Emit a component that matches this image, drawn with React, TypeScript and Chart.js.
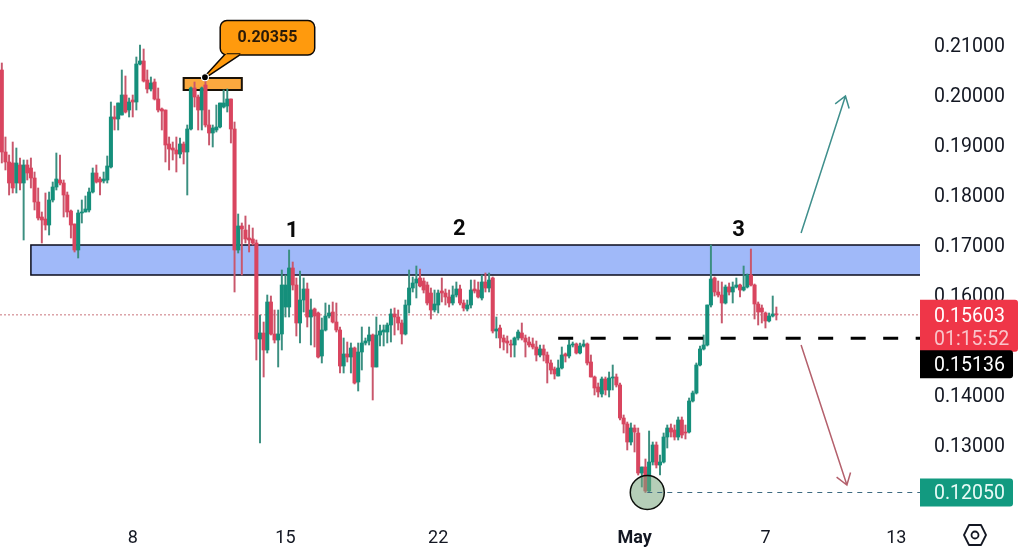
import { useEffect, useRef } from 'react'
import Chart from 'chart.js/auto'

// candles are 4h, prices in 1/10000 (2050 = 0.2050)
const opens = [
  2050,1886,1866,1864,1824,1860,1824,1860,1854,1834,1786,1756,1752,1740,1790,1816,1830,1824,1800,1768,1742,1690,1764,1766,1770,1806,1844,1832,1828,1830,
  1856,1956,1952,1960,2000,1970,1990,1986,2062,2068,2030,2012,2026,1992,1972,1970,1902,1894,1890,1882,1902,1886,1932,2014,1996,1970,2020,1940,1924,1930,
  1936,1976,1978,1992,1932,1690,1738,1730,1714,1712,1704,1512,1524,1490,1586,1522,1510,1522,1576,1576,1654,1620,1544,1590,1612,1556,1572,1564,1478,1530,
  1558,1566,1546,1530,1458,1482,1476,1494,1426,1486,1504,1508,1520,1456,1520,1526,1526,1540,1562,1556,1544,1522,1580,1614,1624,1634,1628,1620,1604,1570,
  1580,1608,1604,1596,1584,1600,1612,1584,1572,1580,1612,1610,1594,1626,1614,1634,1528,1534,1514,1508,1502,1500,1514,1524,1514,1506,1502,1496,1480,1492,
  1480,1464,1452,1438,1454,1482,1478,1500,1502,1484,1498,1502,1466,1436,1416,1402,1432,1410,1434,1436,1420,1354,1342,1306,1334,1324,1244,1256,1208,1266,
  1300,1260,1266,1316,1334,1330,1316,1350,1326,1326,1388,1404,1460,1492,1500,1580,1634,1606,1600,1584,1616,1606,1616,1620,1610,1616,1640,1620,1582,1574,
  1564,1548,1558,1562,
]
const highs = [
  2064,1916,1880,1906,1894,1874,1870,1870,1874,1846,1814,1766,1804,1806,1826,1884,1880,1830,1806,1770,1742,1770,1790,1798,1814,1854,1860,1836,1846,1878,
  1986,1978,1984,2050,2038,1994,2000,2076,2100,2092,2050,2036,2032,2014,1974,1970,1916,1906,1916,1914,1906,1940,2016,2026,2000,2016,2035.5,1970,1940,1980,
  1984,2010,2012,1992,1946,1762,1744,1758,1740,1734,1710,1560,1546,1600,1598,1570,1570,1650,1640,1690,1666,1634,1648,1634,1624,1592,1574,1566,1554,1584,
  1580,1586,1584,1536,1514,1506,1504,1496,1504,1536,1514,1536,1522,1556,1540,1540,1544,1572,1574,1570,1550,1590,1650,1636,1658,1652,1634,1626,1614,1610,
  1610,1634,1612,1610,1618,1626,1620,1590,1590,1630,1630,1626,1640,1644,1644,1636,1556,1540,1520,1518,1510,1516,1530,1544,1520,1516,1514,1508,1500,1500,
  1486,1470,1456,1470,1496,1484,1510,1506,1504,1504,1510,1504,1480,1438,1424,1436,1436,1446,1460,1442,1424,1360,1346,1344,1340,1334,1256,1272,1328,1306,
  1306,1280,1324,1340,1342,1340,1356,1356,1340,1394,1408,1464,1498,1520,1580,1700,1636,1628,1626,1620,1624,1626,1634,1622,1658,1642,1692,1622,1586,1580,
  1566,1564,1598,1576,
]
const lows = [
  1864,1850,1800,1804,1804,1810,1710,1830,1814,1770,1750,1704,1730,1720,1786,1810,1820,1756,1756,1714,1686,1674,1744,1766,1766,1804,1824,1800,1824,1824,
  1854,1930,1930,1960,1964,1956,1956,1970,2060,2026,2004,2008,1990,1966,1930,1866,1850,1870,1846,1874,1862,1800,1930,1976,1930,1930,1936,1900,1896,1926,
  1934,1974,1966,1904,1606,1684,1640,1704,1686,1700,1470,1304,1436,1484,1520,1504,1456,1490,1556,1556,1610,1518,1504,1566,1536,1500,1496,1474,1464,1528,
  1554,1544,1526,1444,1444,1466,1444,1422,1408,1450,1500,1500,1390,1456,1498,1498,1504,1506,1520,1530,1502,1520,1564,1606,1594,1616,1604,1580,1552,1566,
  1564,1586,1580,1576,1580,1596,1580,1568,1568,1574,1604,1594,1590,1606,1606,1524,1514,1494,1490,1484,1476,1476,1510,1510,1476,1496,1492,1468,1476,1468,
  1424,1442,1432,1438,1452,1466,1474,1496,1482,1482,1496,1460,1436,1400,1396,1396,1400,1396,1410,1416,1350,1324,1290,1300,1286,1240,1216,1205,1206,1260,
  1254,1240,1264,1294,1316,1310,1310,1314,1312,1324,1386,1402,1458,1490,1498,1576,1598,1596,1544,1582,1600,1584,1614,1596,1608,1614,1618,1552,1540,1544,
  1534,1546,1556,1550,
]
const closes = [
  1886,1866,1824,1814,1864,1824,1860,1844,1834,1786,1754,1750,1740,1790,1816,1832,1824,1800,1766,1740,1690,1764,1766,1772,1806,1844,1826,1826,1832,1858,
  1956,1952,1984,2000,1966,1986,1986,2062,2068,2028,2012,2024,1992,1970,1968,1900,1892,1890,1882,1902,1886,1932,2014,1996,1970,2014,1940,1924,1934,1936,
  1984,1984,1992,1932,1690,1738,1732,1712,1710,1704,1512,1524,1490,1586,1522,1510,1522,1620,1620,1654,1620,1544,1590,1612,1556,1570,1558,1476,1530,1558,
  1564,1546,1530,1458,1482,1476,1494,1424,1486,1504,1508,1520,1456,1520,1528,1530,1540,1562,1556,1544,1522,1580,1614,1624,1632,1618,1610,1584,1570,1582,
  1604,1604,1596,1584,1600,1612,1584,1574,1580,1610,1608,1596,1626,1614,1630,1528,1532,1514,1506,1504,1500,1514,1526,1514,1506,1500,1496,1480,1492,1480,
  1464,1450,1442,1454,1480,1478,1500,1502,1484,1498,1502,1464,1436,1414,1406,1432,1410,1434,1436,1420,1354,1342,1306,1334,1326,1244,1256,1208,1266,1300,
  1260,1266,1316,1334,1326,1316,1350,1320,1324,1388,1404,1460,1492,1500,1580,1632,1606,1600,1584,1616,1606,1616,1620,1610,1616,1640,1620,1582,1566,1566,
  1548,1558,1562,1560.3,
]

const slotCount = 253
const tickIndexes = [36, 78, 120, 174, 210, 246]
const tickNames = ['8', '15', '22', 'May', '7', '13']
const yTicks = [0.12, 0.13, 0.14, 0.15, 0.16, 0.17, 0.18, 0.19, 0.2, 0.21]

const zoneTop = 0.17
const zoneBottom = 0.164
const zoneStart = 8
const peakBoxTop = 0.2034
const peakBoxBottom = 0.201
const peakBoxStart = 50
const peakBoxEnd = 66
const peakIndex = 56
const peakPrice = 0.20355
const lastPrice = 0.15603
const levelPrice = 0.15136
const levelStart = 153
const lowPrice = 0.1205
const lowIndex = 177.5
const countLabels = ['1', '2', '3']
const countIndexes = [79.8, 125.8, 202.6]
const countPrices = [0.1728, 0.1732, 0.1729]
const upArrow = { from: [219.8, 0.1724], to: [232, 0.1998] }
const downArrow = { from: [219.8, 0.15], to: [232.4, 0.122] }

const RED = '#d9455f'
const GREEN = '#158f7b'
const RED_WICK = '#c9576c'
const GREEN_WICK = '#3b8f80'
const FONT = 'Roboto, sans-serif'

const drawArrow = (ctx: any, x0: number, y0: number, x1: number, y1: number, color: string) => {
  const ang = Math.atan2(y1 - y0, x1 - x0)
  ctx.strokeStyle = color
  ctx.lineWidth = 1.5
  ctx.beginPath()
  ctx.moveTo(x0, y0)
  ctx.lineTo(x1, y1)
  ctx.moveTo(x1 - 13 * Math.cos(ang - 0.6), y1 - 13 * Math.sin(ang - 0.6))
  ctx.lineTo(x1, y1)
  ctx.lineTo(x1 - 13 * Math.cos(ang + 0.6), y1 - 13 * Math.sin(ang + 0.6))
  ctx.stroke()
}

const priceTag = (ctx: any, x: number, y: number, w: number, h: number, color: string) => {
  ctx.fillStyle = color
  ctx.beginPath()
  ctx.roundRect(x, y, w, h, [0, 3, 3, 0])
  ctx.fill()
}

// zone + orange box go under the candles
const underlay = {
  id: 'underlay',
  beforeDatasetsDraw(chart: any) {
    const { ctx, chartArea, scales } = chart
    const sx = scales.x
    const sy = scales.y
    ctx.save()
    const zx = sx.getPixelForValue(zoneStart)
    const zt = sy.getPixelForValue(zoneTop)
    const zb = sy.getPixelForValue(zoneBottom)
    ctx.fillStyle = '#a0b9f9'
    ctx.fillRect(zx, zt, chartArea.right - zx, zb - zt)
    ctx.strokeStyle = '#0b0d1c'
    ctx.lineWidth = 1.5
    ctx.beginPath()
    ctx.moveTo(chartArea.right, zt)
    ctx.lineTo(zx, zt)
    ctx.lineTo(zx, zb)
    ctx.lineTo(chartArea.right, zb)
    ctx.stroke()

    const bx0 = sx.getPixelForValue(peakBoxStart)
    const bx1 = sx.getPixelForValue(peakBoxEnd)
    const bt = sy.getPixelForValue(peakBoxTop)
    const bb = sy.getPixelForValue(peakBoxBottom)
    ctx.fillStyle = '#fba93f'
    ctx.fillRect(bx0, bt, bx1 - bx0, bb - bt)
    ctx.strokeStyle = '#1a1208'
    ctx.lineWidth = 2
    ctx.strokeRect(bx0, bt, bx1 - bx0, bb - bt)

    // last price dotted line
    const ly = sy.getPixelForValue(lastPrice)
    ctx.strokeStyle = '#c9747c'
    ctx.lineWidth = 1
    ctx.setLineDash([2, 2])
    ctx.beginPath()
    ctx.moveTo(0, ly)
    ctx.lineTo(chartArea.right, ly)
    ctx.stroke()
    ctx.restore()
  },
}

const overlay = {
  id: 'overlay',
  afterDraw(chart: any) {
    const { ctx, chartArea, scales } = chart
    const sx = scales.x
    const sy = scales.y
    const right = chartArea.right
    ctx.save()

    // low marker
    const cx = sx.getPixelForValue(lowIndex)
    const cy = sy.getPixelForValue(lowPrice)
    ctx.beginPath()
    ctx.arc(cx, cy, 17, 0, Math.PI * 2)
    ctx.fillStyle = 'rgba(120, 165, 125, 0.55)'
    ctx.fill()
    ctx.strokeStyle = '#0c100c'
    ctx.lineWidth = 1.5
    ctx.stroke()
    ctx.strokeStyle = '#3f6b80'
    ctx.lineWidth = 1
    ctx.setLineDash([5, 5])
    ctx.beginPath()
    ctx.moveTo(cx, cy)
    ctx.lineTo(right, cy)
    ctx.stroke()

    // level
    const ly = sy.getPixelForValue(levelPrice)
    ctx.strokeStyle = '#000'
    ctx.lineWidth = 3
    ctx.setLineDash([15, 17.5])
    ctx.beginPath()
    ctx.moveTo(sx.getPixelForValue(levelStart), ly)
    ctx.lineTo(right, ly)
    ctx.stroke()
    ctx.setLineDash([])

    drawArrow(ctx, sx.getPixelForValue(upArrow.from[0]), sy.getPixelForValue(upArrow.from[1]), sx.getPixelForValue(upArrow.to[0]), sy.getPixelForValue(upArrow.to[1]), '#3f8f8c')
    drawArrow(ctx, sx.getPixelForValue(downArrow.from[0]), sy.getPixelForValue(downArrow.from[1]), sx.getPixelForValue(downArrow.to[0]), sy.getPixelForValue(downArrow.to[1]), '#b4606c')

    // 1 2 3
    ctx.fillStyle = '#0a0a0a'
    ctx.font = `bold 22px ${FONT}`
    ctx.textAlign = 'center'
    ctx.textBaseline = 'middle'
    countLabels.forEach((t, i) => {
      ctx.fillText(t, sx.getPixelForValue(countIndexes[i]), sy.getPixelForValue(countPrices[i]))
    })

    // callout
    const px = sx.getPixelForValue(peakIndex) - 0.5
    const py = sy.getPixelForValue(peakPrice)
    ctx.lineJoin = 'round'
    ctx.beginPath()
    ctx.roundRect(px + 16, py - 56, 93, 33, 6)
    ctx.moveTo(px + 22, py - 24)
    ctx.lineTo(px, py)
    ctx.lineTo(px + 36, py - 24)
    ctx.fillStyle = '#ff9a0d'
    ctx.strokeStyle = '#0d0805'
    ctx.lineWidth = 3
    ctx.stroke()
    ctx.fill()
    ctx.beginPath()
    ctx.arc(px, py, 3.5, 0, Math.PI * 2)
    ctx.fillStyle = '#000'
    ctx.fill()
    ctx.lineWidth = 1.2
    ctx.strokeStyle = '#fff'
    ctx.stroke()
    ctx.fillStyle = '#2a1a08'
    ctx.font = `bold 16px ${FONT}`
    ctx.fillText(peakPrice.toFixed(5), px + 62.5, py - 39)

    // price tags on the axis
    ctx.font = `19.5px ${FONT}`
    ctx.textAlign = 'left'
    const textX = right + 14
    const lastY = sy.getPixelForValue(lastPrice)
    priceTag(ctx, right, lastY - 15, 98, 52, '#ef3648')
    ctx.fillStyle = '#fff'
    ctx.fillText(lastPrice.toFixed(5), textX, lastY + 2)
    ctx.fillStyle = '#f9c4ca'
    ctx.fillText('01:15:52', textX, lastY + 25)
    priceTag(ctx, right, ly + 12, 93, 28, '#000')
    ctx.fillStyle = '#fff'
    ctx.fillText(levelPrice.toFixed(5), textX, ly + 28)
    priceTag(ctx, right, cy - 14, 93, 28, '#129a80')
    ctx.fillStyle = '#e8fbf6'
    ctx.fillText(lowPrice.toFixed(5), textX, cy + 1.5)

    // settings icon
    const ix = 975
    const iy = 535
    ctx.strokeStyle = '#131722'
    ctx.lineWidth = 1.8
    ctx.beginPath()
    ctx.moveTo(ix - 11, iy)
    ctx.lineTo(ix - 6, iy - 10)
    ctx.lineTo(ix + 6, iy - 10)
    ctx.lineTo(ix + 11, iy)
    ctx.lineTo(ix + 6, iy + 10)
    ctx.lineTo(ix - 6, iy + 10)
    ctx.closePath()
    ctx.stroke()
    ctx.beginPath()
    ctx.arc(ix, iy, 3.5, 0, Math.PI * 2)
    ctx.stroke()
    ctx.restore()
  },
}

const App = () => {
  const canvasRef = useRef<HTMLCanvasElement>(null)

  useEffect(() => {
    if (!canvasRef.current) return
    document.body.style.margin = '0'

    const labels = Array.from({ length: slotCount }, (_, i) => {
      const at = tickIndexes.indexOf(i)
      return at >= 0 ? tickNames[at] : ''
    })
    const toPrice = (v: number) => v / 10000
    const isUp = opens.map((o, i) => closes[i] >= o)

    const chart = new Chart(canvasRef.current, {
      type: 'bar',
      data: {
        labels,
        datasets: [
          {
            data: lows.map((l, i) => [toPrice(l), toPrice(highs[i])]),
            backgroundColor: isUp.map(up => (up ? GREEN_WICK : RED_WICK)),
            barThickness: 1.3,
            grouped: false,
            order: 2,
          },
          {
            data: opens.map((o, i) => [toPrice(o), toPrice(closes[i])]),
            backgroundColor: isUp.map(up => (up ? GREEN : RED)),
            barThickness: 3.4,
            minBarLength: 1,
            grouped: false,
            order: 1,
          },
        ] as any,
      },
      options: {
        responsive: false,
        animation: false,
        devicePixelRatio: 1,
        events: [],
        layout: { padding: 0 },
        plugins: { legend: { display: false }, tooltip: { enabled: false } },
        scales: {
          x: {
            grid: { display: false, drawTicks: false },
            border: { display: false },
            afterFit(scale: any) {
              scale.height = 36
              scale.paddingLeft = 0
              scale.paddingRight = 0
            },
            ticks: {
              autoSkip: false,
              maxRotation: 0,
              padding: 8,
              color: '#131722',
              font: (c: any) => (c.tick && c.tick.label === 'May'
                ? { family: FONT, size: 18, weight: 'bold' }
                : { family: FONT, size: 18 }),
            },
          },
          y: {
            position: 'right',
            min: 0.115,
            max: 0.219,
            grid: { display: false, drawTicks: false },
            border: { display: false },
            afterFit(scale: any) {
              scale.width = 104
              scale.paddingTop = 0
              scale.paddingBottom = 0
            },
            afterBuildTicks(scale: any) {
              scale.ticks = yTicks.map(value => ({ value }))
            },
            ticks: {
              padding: 14,
              labelOffset: 2,
              color: '#131722',
              font: { family: FONT, size: 19.5 },
              callback: (v: any) => Number(v).toFixed(5),
            },
          },
        },
      },
      plugins: [underlay, overlay],
    } as any)

    return () => chart.destroy()
  }, [])

  return (
    <div style={{ width: 1024, height: 556, background: '#fff' }}>
      <canvas ref={canvasRef} width={1024} height={556} style={{ display: 'block' }} />
    </div>
  )
}

export default App
